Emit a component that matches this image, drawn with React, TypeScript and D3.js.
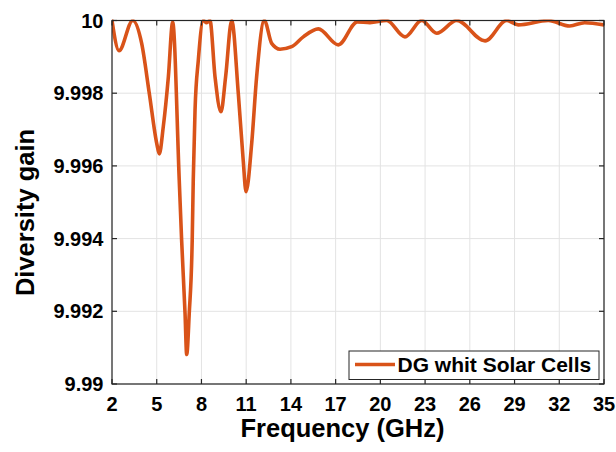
import React from "react";
import * as d3 from "d3";

const freq = [
  2.0, 2.47, 3.39, 3.99, 4.5, 5.0, 5.17, 5.44, 5.78, 6.07,
  6.51, 6.67, 6.9, 7.01, 7.18, 7.38, 7.45, 7.57, 7.79, 8.12,
  8.35, 8.57, 8.91, 9.31, 9.62, 10.03, 10.47, 10.8, 10.99, 11.37,
  11.7, 12.22, 12.71, 13.27, 14.05, 14.83, 15.84, 17.18, 18.45, 19.3,
  20.42, 21.65, 22.77, 23.78, 25.12, 27.02, 28.47, 29.25, 31.26, 32.7,
  33.7, 35.0,
];
const dg = [
  10.0, 9.99917, 10.0, 9.99937, 9.998, 9.99662, 9.99633, 9.99708, 9.99845, 9.99995,
  9.99561, 9.99396, 9.99194, 9.99081, 9.99194, 9.99396, 9.99561, 9.99754, 9.99891, 10.0,
  9.99994, 10.0, 9.99845, 9.99749, 9.99845, 10.0, 9.998, 9.99616, 9.99529, 9.99662,
  9.99845, 10.0, 9.99937, 9.99921, 9.99928, 9.99955, 9.99977, 9.99933, 9.99996, 9.99994,
  10.0, 9.99955, 10.0, 9.99965, 10.0, 9.99944, 10.0, 9.99988, 10.0, 9.99985,
  9.99994, 9.99988,
];
const xTicks = [2, 5, 8, 11, 14, 17, 20, 23, 26, 29, 32, 35];
const yTicks = [9.99, 9.992, 9.994, 9.996, 9.998, 10];
const yTickLabels = ["9.99", "9.992", "9.994", "9.996", "9.998", "10"];
const seriesName = "DG whit Solar Cells";
const xTitle = "Frequency (GHz)";
const yTitle = "Diversity gain";

const W = 616;
const H = 452;
const L = 112, R = 604, T = 20.5, B = 384;
const FONT = "'Liberation Sans', Arial, sans-serif";
const ORANGE = "#D95319";

export default function App() {
  const x = d3.scaleLinear().domain([2, 35]).range([L, R]);
  const y = d3.scaleLinear().domain([9.99, 10]).range([B, T]);
  const pts: [number, number][] = freq.map((f, i) => [f, dg[i]]);
  const line = d3
    .line<[number, number]>()
    .x((d) => x(d[0]))
    .y((d) => y(d[1]))
    .curve(d3.curveMonotoneX);

  return (
    <svg
      width={W}
      height={H}
      style={{ position: "absolute", left: 0, top: 0, background: "#fff" }}
      fontFamily={FONT}
    >
      <rect x={0} y={0} width={W} height={H} fill="#fff" />
      {/* grid */}
      {xTicks.map((t) => (
        <line key={"gx" + t} x1={x(t)} x2={x(t)} y1={T} y2={B} stroke="#e3e3e3" strokeWidth={1} />
      ))}
      {yTicks.map((t) => (
        <line key={"gy" + t} x1={L} x2={R} y1={y(t)} y2={y(t)} stroke="#e3e3e3" strokeWidth={1} />
      ))}
      <defs>
        <clipPath id="plotclip">
          <rect x={L} y={T - 1} width={R - L} height={B - T + 2} />
        </clipPath>
      </defs>
      <path
        d={line(pts) || ""}
        fill="none"
        stroke={ORANGE}
        strokeWidth={3.6}
        strokeLinejoin="round"
        strokeLinecap="round"
        clipPath="url(#plotclip)"
      />
      {/* axes box */}
      <rect x={L} y={T} width={R - L} height={B - T} fill="none" stroke="#262626" strokeWidth={1.2} />
      {xTicks.map((t) => (
        <g key={"tx" + t}>
          <line x1={x(t)} x2={x(t)} y1={B} y2={B - 5} stroke="#262626" strokeWidth={1.2} />
          <line x1={x(t)} x2={x(t)} y1={T} y2={T + 5} stroke="#262626" strokeWidth={1.2} />
          <text x={x(t)} y={411} textAnchor="middle" fontSize={20} fontWeight="bold" fill="#000">
            {t}
          </text>
        </g>
      ))}
      {yTicks.map((t, i) => (
        <g key={"ty" + t}>
          <line x1={L} x2={L + 5} y1={y(t)} y2={y(t)} stroke="#262626" strokeWidth={1.2} />
          <line x1={R} x2={R - 5} y1={y(t)} y2={y(t)} stroke="#262626" strokeWidth={1.2} />
          <text x={103.5} y={y(t) + 7} textAnchor="end" fontSize={20} fontWeight="bold" fill="#000">
            {yTickLabels[i]}
          </text>
        </g>
      ))}
      <text x={342.5} y={437} textAnchor="middle" fontSize={25.5} fontWeight="bold" fill="#000">
        {xTitle}
      </text>
      <text
        transform={`translate(33.5,212.5) rotate(-90)`}
        textAnchor="middle"
        fontSize={25.5}
        fontWeight="bold"
        fill="#000"
      >
        {yTitle}
      </text>
      {/* legend */}
      <rect x={349} y={351} width={250} height={28.5} fill="#fff" stroke="#262626" strokeWidth={1} />
      <line x1={355} x2={395} y1={364.5} y2={364.5} stroke={ORANGE} strokeWidth={3.6} />
      <text x={397.5} y={372} fontSize={21} fontWeight="bold" fill="#000">
        {seriesName}
      </text>
    </svg>
  );
}
